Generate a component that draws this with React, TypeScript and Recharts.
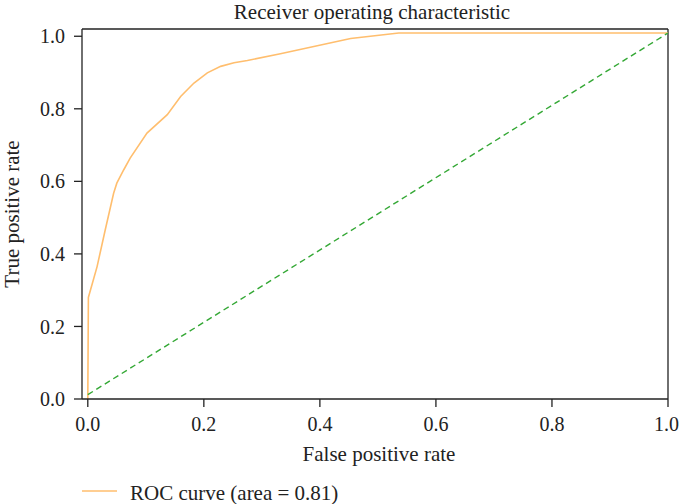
import React from 'react';
import { LineChart, Line, XAxis, YAxis, Legend, ReferenceLine } from 'recharts';

// ROC curve points
const fprValues = [0, 0.001, 0.016, 0.03, 0.0445, 0.05, 0.062, 0.073, 0.102, 0.137, 0.16, 0.183, 0.206, 0.229, 0.252, 0.275, 0.332, 0.453, 0.536, 1.0];
const tprValues = [0, 0.28, 0.365, 0.466, 0.567, 0.595, 0.632, 0.664, 0.733, 0.784, 0.834, 0.871, 0.899, 0.917, 0.927, 0.933, 0.952, 0.994, 1.009, 1.009];

// chance line
const chanceFpr = [0, 1];
const chanceTpr = [0.012, 1.009];

const xTicks = [0, 0.2, 0.4, 0.6, 0.8, 1.0];
const yTicks = [0, 0.2, 0.4, 0.6, 0.8, 1.0];

const X_DOMAIN: [number, number] = [-0.01, 1.0];
const Y_DOMAIN: [number, number] = [0, 1.02];

const rocData = fprValues.map((fpr, i) => ({ fpr, tpr: tprValues[i] }));
const chanceData = chanceFpr.map((fpr, i) => ({ fpr, tpr: chanceTpr[i] }));

const FONT = '"Liberation Serif", "DejaVu Serif", serif';
const ROC_COLOR = '#ffbe6e';
const CHANCE_COLOR = '#34a835';
const AXIS_COLOR = '#222';

const LegendContent = () => (
  <svg width={679} height={28} style={{ display: 'block' }}>
    <line x1={82} x2={117} y1={15} y2={15} stroke={ROC_COLOR} strokeWidth={1.5} />
    <text x={130} y={24} fontFamily={FONT} fontSize={21} fill="#222">
      ROC curve (area = 0.81)
    </text>
  </svg>
);

export default function App() {
  const tickStyle = { fontSize: 20, fontFamily: FONT, fill: '#222' };
  const textStyle = { fontSize: 21, fontFamily: FONT, fill: '#222' };
  return (
    <div style={{ position: 'absolute', left: 0, top: 0, background: '#fff' }}>
      <LineChart width={679} height={504} margin={{ top: 29, right: 11, left: 0, bottom: 0 }}>
        <XAxis
          dataKey="fpr"
          type="number"
          domain={X_DOMAIN}
          ticks={xTicks}
          allowDataOverflow
          tickFormatter={(v: number) => v.toFixed(1)}
          tick={tickStyle}
          tickSize={8}
          tickMargin={10}
          height={77}
          stroke={AXIS_COLOR}
          strokeWidth={1.3}
          label={{ value: 'False positive rate', position: 'insideBottom', offset: 15, dx: 4, style: textStyle }}
        />
        <YAxis
          type="number"
          domain={Y_DOMAIN}
          ticks={yTicks}
          allowDataOverflow
          tickFormatter={(v: number) => v.toFixed(1)}
          tick={tickStyle}
          tickSize={8}
          tickMargin={9}
          width={82}
          stroke={AXIS_COLOR}
          strokeWidth={1.3}
          label={{ value: 'True positive rate', angle: -90, position: 'insideLeft', offset: 12, style: { ...textStyle, textAnchor: 'middle' } }}
        />
        {/* frame: top and right edges, title sits on the top edge */}
        <ReferenceLine
          y={Y_DOMAIN[1]}
          stroke={AXIS_COLOR}
          strokeWidth={1.3}
          ifOverflow="visible"
          label={{ value: 'Receiver operating characteristic', position: 'top', offset: 10, dx: -3, style: textStyle }}
        />
        <ReferenceLine x={X_DOMAIN[1]} stroke={AXIS_COLOR} strokeWidth={1.3} ifOverflow="visible" />
        <Legend verticalAlign="bottom" height={28} content={<LegendContent />} />
        <Line
          data={rocData}
          dataKey="tpr"
          type="linear"
          stroke={ROC_COLOR}
          strokeWidth={1.6}
          dot={false}
          isAnimationActive={false}
          name="ROC curve (area = 0.81)"
        />
        <Line
          data={chanceData}
          dataKey="tpr"
          type="linear"
          stroke={CHANCE_COLOR}
          strokeWidth={1.4}
          strokeDasharray="6 4"
          dot={false}
          isAnimationActive={false}
          legendType="none"
        />
      </LineChart>
    </div>
  );
}
